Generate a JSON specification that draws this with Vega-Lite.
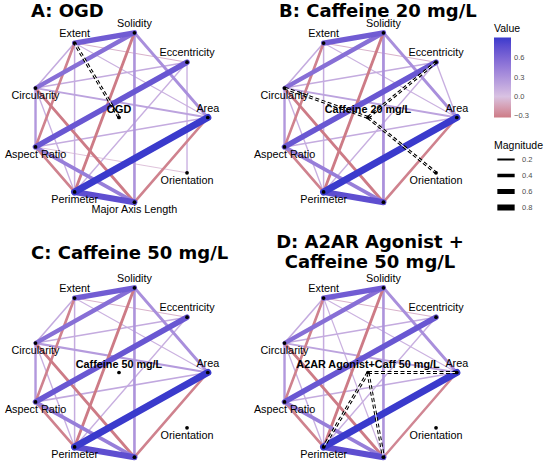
{
  "$schema": "https://vega.github.io/schema/vega-lite/v6.json",
  "background": "white",
  "padding": {"left": 4, "top": 2, "right": 0, "bottom": 0},
  "columns": 2,
  "spacing": {"row": 40, "column": 27},
  "bounds": "flush",
  "resolve": {"scale": {"color": "shared", "strokeWidth": "shared"}},
  "datasets": {
    "layout": [
      {"node": "Solidity", "x": 0.174, "y": 0.985, "side": "above"},
      {"node": "Extent", "x": -0.5, "y": 0.866, "side": "above"},
      {"node": "Eccentricity", "x": 0.766, "y": 0.643, "side": "above"},
      {"node": "Area", "x": 1.0, "y": 0.0, "side": "above"},
      {"node": "Orientation", "x": 0.766, "y": -0.643, "side": "below"},
      {"node": "Major Axis Length", "x": 0.174, "y": -0.985, "side": "below"},
      {"node": "Perimeter", "x": -0.5, "y": -0.866, "side": "below"},
      {"node": "Aspect Ratio", "x": -0.94, "y": -0.342, "side": "below"},
      {"node": "Circularity", "x": -0.94, "y": 0.342, "side": "below"},
      {"node": "Group", "x": 0.0, "y": 0.0, "side": "center"}
    ],
    "groups": [
      {"panel": "A", "node": "Group", "name": "OGD"},
      {"panel": "B", "node": "Group", "name": "Caffeine 20 mg/L"},
      {"panel": "C", "node": "Group", "name": "Caffeine 50 mg/L"},
      {"panel": "D", "node": "Group", "name": "A2AR Agonist+Caff 50 mg/L"}
    ],
    "gedges": [
      {"panel": "A", "from": "Group", "to": "Extent"},
      {"panel": "B", "from": "Group", "to": "Circularity"},
      {"panel": "B", "from": "Group", "to": "Eccentricity"},
      {"panel": "B", "from": "Group", "to": "Orientation"},
      {"panel": "D", "from": "Group", "to": "Area"},
      {"panel": "D", "from": "Group", "to": "Perimeter"},
      {"panel": "D", "from": "Group", "to": "Major Axis Length"}
    ],
    "edges": [
      {"panel": "A", "from": "Aspect Ratio", "to": "Orientation", "value": -0.05, "magnitude": 0.05},
      {"panel": "A", "from": "Extent", "to": "Eccentricity", "value": -0.08, "magnitude": 0.08},
      {"panel": "A", "from": "Extent", "to": "Area", "value": 0.1, "magnitude": 0.1},
      {"panel": "A", "from": "Eccentricity", "to": "Orientation", "value": 0.12, "magnitude": 0.12},
      {"panel": "A", "from": "Circularity", "to": "Perimeter", "value": 0.12, "magnitude": 0.12},
      {"panel": "A", "from": "Eccentricity", "to": "Perimeter", "value": 0.12, "magnitude": 0.12},
      {"panel": "A", "from": "Extent", "to": "Perimeter", "value": 0.14, "magnitude": 0.14},
      {"panel": "A", "from": "Extent", "to": "Circularity", "value": 0.15, "magnitude": 0.15},
      {"panel": "A", "from": "Circularity", "to": "Eccentricity", "value": 0.15, "magnitude": 0.15},
      {"panel": "A", "from": "Area", "to": "Aspect Ratio", "value": 0.15, "magnitude": 0.15},
      {"panel": "A", "from": "Circularity", "to": "Area", "value": 0.2, "magnitude": 0.2},
      {"panel": "A", "from": "Circularity", "to": "Aspect Ratio", "value": 0.27, "magnitude": 0.27},
      {"panel": "A", "from": "Solidity", "to": "Major Axis Length", "value": 0.3, "magnitude": 0.3},
      {"panel": "A", "from": "Solidity", "to": "Area", "value": 0.33, "magnitude": 0.33},
      {"panel": "A", "from": "Extent", "to": "Aspect Ratio", "value": -0.3, "magnitude": 0.3},
      {"panel": "A", "from": "Area", "to": "Major Axis Length", "value": -0.3, "magnitude": 0.3},
      {"panel": "A", "from": "Aspect Ratio", "to": "Perimeter", "value": -0.3, "magnitude": 0.3},
      {"panel": "A", "from": "Solidity", "to": "Perimeter", "value": -0.33, "magnitude": 0.33},
      {"panel": "A", "from": "Circularity", "to": "Major Axis Length", "value": -0.33, "magnitude": 0.33},
      {"panel": "A", "from": "Aspect Ratio", "to": "Major Axis Length", "value": 0.45, "magnitude": 0.45},
      {"panel": "A", "from": "Solidity", "to": "Circularity", "value": 0.55, "magnitude": 0.55},
      {"panel": "A", "from": "Extent", "to": "Solidity", "value": 0.68, "magnitude": 0.68},
      {"panel": "A", "from": "Eccentricity", "to": "Aspect Ratio", "value": 0.72, "magnitude": 0.72},
      {"panel": "A", "from": "Perimeter", "to": "Major Axis Length", "value": 0.78, "magnitude": 0.78},
      {"panel": "A", "from": "Area", "to": "Perimeter", "value": 0.93, "magnitude": 0.93},

      {"panel": "B", "from": "Extent", "to": "Eccentricity", "value": -0.08, "magnitude": 0.08},
      {"panel": "B", "from": "Extent", "to": "Area", "value": 0.1, "magnitude": 0.1},
      {"panel": "B", "from": "Eccentricity", "to": "Area", "value": 0.12, "magnitude": 0.12},
      {"panel": "B", "from": "Circularity", "to": "Perimeter", "value": 0.12, "magnitude": 0.12},
      {"panel": "B", "from": "Eccentricity", "to": "Perimeter", "value": 0.12, "magnitude": 0.12},
      {"panel": "B", "from": "Extent", "to": "Perimeter", "value": 0.14, "magnitude": 0.14},
      {"panel": "B", "from": "Extent", "to": "Circularity", "value": 0.15, "magnitude": 0.15},
      {"panel": "B", "from": "Circularity", "to": "Eccentricity", "value": 0.15, "magnitude": 0.15},
      {"panel": "B", "from": "Area", "to": "Aspect Ratio", "value": 0.15, "magnitude": 0.15},
      {"panel": "B", "from": "Circularity", "to": "Area", "value": 0.2, "magnitude": 0.2},
      {"panel": "B", "from": "Circularity", "to": "Aspect Ratio", "value": 0.27, "magnitude": 0.27},
      {"panel": "B", "from": "Solidity", "to": "Major Axis Length", "value": 0.32, "magnitude": 0.32},
      {"panel": "B", "from": "Solidity", "to": "Area", "value": 0.33, "magnitude": 0.33},
      {"panel": "B", "from": "Extent", "to": "Aspect Ratio", "value": -0.3, "magnitude": 0.3},
      {"panel": "B", "from": "Area", "to": "Major Axis Length", "value": -0.3, "magnitude": 0.3},
      {"panel": "B", "from": "Aspect Ratio", "to": "Perimeter", "value": -0.3, "magnitude": 0.3},
      {"panel": "B", "from": "Solidity", "to": "Perimeter", "value": -0.33, "magnitude": 0.33},
      {"panel": "B", "from": "Circularity", "to": "Major Axis Length", "value": -0.33, "magnitude": 0.33},
      {"panel": "B", "from": "Aspect Ratio", "to": "Major Axis Length", "value": 0.45, "magnitude": 0.45},
      {"panel": "B", "from": "Solidity", "to": "Circularity", "value": 0.55, "magnitude": 0.55},
      {"panel": "B", "from": "Extent", "to": "Solidity", "value": 0.68, "magnitude": 0.68},
      {"panel": "B", "from": "Eccentricity", "to": "Aspect Ratio", "value": 0.72, "magnitude": 0.72},
      {"panel": "B", "from": "Perimeter", "to": "Major Axis Length", "value": 0.78, "magnitude": 0.78},
      {"panel": "B", "from": "Area", "to": "Perimeter", "value": 0.93, "magnitude": 0.93},

      {"panel": "C", "from": "Extent", "to": "Eccentricity", "value": -0.08, "magnitude": 0.08},
      {"panel": "C", "from": "Extent", "to": "Area", "value": 0.1, "magnitude": 0.1},
      {"panel": "C", "from": "Circularity", "to": "Perimeter", "value": 0.12, "magnitude": 0.12},
      {"panel": "C", "from": "Eccentricity", "to": "Perimeter", "value": 0.12, "magnitude": 0.12},
      {"panel": "C", "from": "Extent", "to": "Perimeter", "value": 0.14, "magnitude": 0.14},
      {"panel": "C", "from": "Extent", "to": "Circularity", "value": 0.15, "magnitude": 0.15},
      {"panel": "C", "from": "Circularity", "to": "Eccentricity", "value": 0.15, "magnitude": 0.15},
      {"panel": "C", "from": "Area", "to": "Aspect Ratio", "value": 0.17, "magnitude": 0.17},
      {"panel": "C", "from": "Circularity", "to": "Area", "value": 0.25, "magnitude": 0.25},
      {"panel": "C", "from": "Circularity", "to": "Aspect Ratio", "value": 0.27, "magnitude": 0.27},
      {"panel": "C", "from": "Solidity", "to": "Major Axis Length", "value": 0.3, "magnitude": 0.3},
      {"panel": "C", "from": "Solidity", "to": "Area", "value": 0.33, "magnitude": 0.33},
      {"panel": "C", "from": "Extent", "to": "Aspect Ratio", "value": -0.3, "magnitude": 0.3},
      {"panel": "C", "from": "Area", "to": "Major Axis Length", "value": -0.3, "magnitude": 0.3},
      {"panel": "C", "from": "Aspect Ratio", "to": "Perimeter", "value": -0.3, "magnitude": 0.3},
      {"panel": "C", "from": "Solidity", "to": "Perimeter", "value": -0.33, "magnitude": 0.33},
      {"panel": "C", "from": "Circularity", "to": "Major Axis Length", "value": -0.33, "magnitude": 0.33},
      {"panel": "C", "from": "Aspect Ratio", "to": "Major Axis Length", "value": 0.45, "magnitude": 0.45},
      {"panel": "C", "from": "Solidity", "to": "Circularity", "value": 0.55, "magnitude": 0.55},
      {"panel": "C", "from": "Extent", "to": "Solidity", "value": 0.68, "magnitude": 0.68},
      {"panel": "C", "from": "Eccentricity", "to": "Aspect Ratio", "value": 0.72, "magnitude": 0.72},
      {"panel": "C", "from": "Perimeter", "to": "Major Axis Length", "value": 0.78, "magnitude": 0.78},
      {"panel": "C", "from": "Area", "to": "Perimeter", "value": 0.93, "magnitude": 0.93},

      {"panel": "D", "from": "Extent", "to": "Eccentricity", "value": -0.08, "magnitude": 0.08},
      {"panel": "D", "from": "Extent", "to": "Area", "value": 0.1, "magnitude": 0.1},
      {"panel": "D", "from": "Extent", "to": "Major Axis Length", "value": 0.1, "magnitude": 0.1},
      {"panel": "D", "from": "Circularity", "to": "Perimeter", "value": 0.12, "magnitude": 0.12},
      {"panel": "D", "from": "Eccentricity", "to": "Perimeter", "value": 0.12, "magnitude": 0.12},
      {"panel": "D", "from": "Extent", "to": "Perimeter", "value": 0.14, "magnitude": 0.14},
      {"panel": "D", "from": "Extent", "to": "Circularity", "value": 0.15, "magnitude": 0.15},
      {"panel": "D", "from": "Circularity", "to": "Eccentricity", "value": 0.15, "magnitude": 0.15},
      {"panel": "D", "from": "Area", "to": "Aspect Ratio", "value": 0.15, "magnitude": 0.15},
      {"panel": "D", "from": "Circularity", "to": "Area", "value": 0.2, "magnitude": 0.2},
      {"panel": "D", "from": "Circularity", "to": "Aspect Ratio", "value": 0.27, "magnitude": 0.27},
      {"panel": "D", "from": "Solidity", "to": "Major Axis Length", "value": 0.3, "magnitude": 0.3},
      {"panel": "D", "from": "Solidity", "to": "Area", "value": 0.33, "magnitude": 0.33},
      {"panel": "D", "from": "Extent", "to": "Aspect Ratio", "value": -0.3, "magnitude": 0.3},
      {"panel": "D", "from": "Area", "to": "Major Axis Length", "value": -0.28, "magnitude": 0.28},
      {"panel": "D", "from": "Aspect Ratio", "to": "Perimeter", "value": -0.3, "magnitude": 0.3},
      {"panel": "D", "from": "Solidity", "to": "Perimeter", "value": -0.33, "magnitude": 0.33},
      {"panel": "D", "from": "Circularity", "to": "Major Axis Length", "value": -0.33, "magnitude": 0.33},
      {"panel": "D", "from": "Aspect Ratio", "to": "Major Axis Length", "value": 0.45, "magnitude": 0.45},
      {"panel": "D", "from": "Solidity", "to": "Circularity", "value": 0.55, "magnitude": 0.55},
      {"panel": "D", "from": "Extent", "to": "Solidity", "value": 0.68, "magnitude": 0.68},
      {"panel": "D", "from": "Eccentricity", "to": "Aspect Ratio", "value": 0.72, "magnitude": 0.72},
      {"panel": "D", "from": "Perimeter", "to": "Major Axis Length", "value": 0.78, "magnitude": 0.78},
      {"panel": "D", "from": "Area", "to": "Perimeter", "value": 0.93, "magnitude": 0.93}
    ]
  },
  "concat": [
    {
      "width": 222, "height": 215,
      "title": {"text": "A: OGD", "offset": -10.5, "dx": 23},
      "layer": [
        {"data": {"name": "edges"},
         "transform": [{"filter": "datum.panel == 'A'"},
           {"lookup": "from", "from": {"data": {"name": "layout"}, "key": "node", "fields": ["x", "y"]}, "as": ["xa", "ya"]},
           {"lookup": "to", "from": {"data": {"name": "layout"}, "key": "node", "fields": ["x", "y"]}, "as": ["xb", "yb"]}],
         "mark": {"type": "rule", "strokeCap": "round"},
         "encoding": {
           "x": {"field": "xa", "type": "quantitative", "scale": {"domain": [-1.25, 1.25], "nice": false, "zero": false}, "axis": null},
           "y": {"field": "ya", "type": "quantitative", "scale": {"domain": [-1.25, 1.25], "nice": false, "zero": false}, "axis": null},
           "x2": {"field": "xb"}, "y2": {"field": "yb"},
           "color": {"field": "value", "type": "quantitative", "scale": {"domain": [-0.33, 0, 0.93], "range": ["#cd7b86", "#d9c2e2", "#3a3acc"], "interpolate": "lab"},
             "legend": {"title": "Value", "orient": "none", "legendX": 486, "legendY": 14, "direction": "vertical", "values": [-0.3, 0, 0.3, 0.6], "format": ".1f", "gradientLength": 80, "gradientThickness": 17, "titlePadding": 3, "labelOffset": 3}},
           "strokeWidth": {"field": "magnitude", "type": "quantitative", "scale": {"domain": [0, 1], "range": [0.5, 7.6]},
             "legend": {"title": "Magnitude", "orient": "none", "legendX": 486, "legendY": 131, "direction": "vertical", "values": [0.2, 0.4, 0.6, 0.8], "symbolType": "stroke", "symbolStrokeColor": "black", "symbolSize": 300, "labelOffset": 4, "rowPadding": 0, "clipHeight": 16, "titlePadding": 0}}
         }},
        {"data": {"name": "gedges"},
         "transform": [{"filter": "datum.panel == 'A'"},
           {"lookup": "from", "from": {"data": {"name": "layout"}, "key": "node", "fields": ["x", "y"]}, "as": ["xa", "ya"]},
           {"lookup": "to", "from": {"data": {"name": "layout"}, "key": "node", "fields": ["x", "y"]}, "as": ["xb", "yb"]}],
         "mark": {"type": "rule", "color": "black", "strokeWidth": 3, "strokeDash": [4, 2.5]},
         "encoding": {"x": {"field": "xa", "type": "quantitative"}, "y": {"field": "ya", "type": "quantitative"}, "x2": {"field": "xb"}, "y2": {"field": "yb"}}},
        {"data": {"name": "gedges"},
         "transform": [{"filter": "datum.panel == 'A'"},
           {"lookup": "from", "from": {"data": {"name": "layout"}, "key": "node", "fields": ["x", "y"]}, "as": ["xa", "ya"]},
           {"lookup": "to", "from": {"data": {"name": "layout"}, "key": "node", "fields": ["x", "y"]}, "as": ["xb", "yb"]}],
         "mark": {"type": "rule", "color": "white", "strokeWidth": 1},
         "encoding": {"x": {"field": "xa", "type": "quantitative"}, "y": {"field": "ya", "type": "quantitative"}, "x2": {"field": "xb"}, "y2": {"field": "yb"}}},
        {"data": {"name": "layout"},
         "mark": {"type": "circle", "size": 14, "color": "black", "opacity": 1},
         "encoding": {"x": {"field": "x", "type": "quantitative"}, "y": {"field": "y", "type": "quantitative"}}},
        {"data": {"name": "layout"},
         "transform": [{"filter": "datum.side == 'above'"}],
         "mark": {"type": "text", "dy": -9, "font": "Liberation Sans", "fontSize": 10.8, "color": "black"},
         "encoding": {"x": {"field": "x", "type": "quantitative"}, "y": {"field": "y", "type": "quantitative"}, "text": {"field": "node"}}},
        {"data": {"name": "layout"},
         "transform": [{"filter": "datum.side == 'below'"}],
         "mark": {"type": "text", "dy": 8, "font": "Liberation Sans", "fontSize": 10.8, "color": "black"},
         "encoding": {"x": {"field": "x", "type": "quantitative"}, "y": {"field": "y", "type": "quantitative"}, "text": {"field": "node"}}},
        {"data": {"name": "groups"},
         "transform": [{"filter": "datum.panel == 'A'"},
           {"lookup": "node", "from": {"data": {"name": "layout"}, "key": "node", "fields": ["x", "y"]}}],
         "mark": {"type": "text", "dy": -7.5, "font": "Liberation Sans", "fontSize": 10.8, "fontWeight": "bold", "color": "black"},
         "encoding": {"x": {"field": "x", "type": "quantitative"}, "y": {"field": "y", "type": "quantitative"}, "text": {"field": "name"}}}
      ]
    },
    {
      "width": 222, "height": 215,
      "title": {"text": "B: Caffeine 20 mg/L", "offset": -10.5, "dx": 22},
      "layer": [
        {"data": {"name": "edges"},
         "transform": [{"filter": "datum.panel == 'B'"},
           {"lookup": "from", "from": {"data": {"name": "layout"}, "key": "node", "fields": ["x", "y"]}, "as": ["xa", "ya"]},
           {"lookup": "to", "from": {"data": {"name": "layout"}, "key": "node", "fields": ["x", "y"]}, "as": ["xb", "yb"]}],
         "mark": {"type": "rule", "strokeCap": "round"},
         "encoding": {
           "x": {"field": "xa", "type": "quantitative", "scale": {"domain": [-1.25, 1.25], "nice": false, "zero": false}, "axis": null},
           "y": {"field": "ya", "type": "quantitative", "scale": {"domain": [-1.25, 1.25], "nice": false, "zero": false}, "axis": null},
           "x2": {"field": "xb"}, "y2": {"field": "yb"},
           "color": {"field": "value", "type": "quantitative", "scale": {"domain": [-0.33, 0, 0.93], "range": ["#cd7b86", "#d9c2e2", "#3a3acc"], "interpolate": "lab"},
             "legend": {"title": "Value", "orient": "none", "legendX": 486, "legendY": 14, "direction": "vertical", "values": [-0.3, 0, 0.3, 0.6], "format": ".1f", "gradientLength": 80, "gradientThickness": 17, "titlePadding": 3, "labelOffset": 3}},
           "strokeWidth": {"field": "magnitude", "type": "quantitative", "scale": {"domain": [0, 1], "range": [0.5, 7.6]},
             "legend": {"title": "Magnitude", "orient": "none", "legendX": 486, "legendY": 131, "direction": "vertical", "values": [0.2, 0.4, 0.6, 0.8], "symbolType": "stroke", "symbolStrokeColor": "black", "symbolSize": 300, "labelOffset": 4, "rowPadding": 0, "clipHeight": 16, "titlePadding": 0}}
         }},
        {"data": {"name": "gedges"},
         "transform": [{"filter": "datum.panel == 'B'"},
           {"lookup": "from", "from": {"data": {"name": "layout"}, "key": "node", "fields": ["x", "y"]}, "as": ["xa", "ya"]},
           {"lookup": "to", "from": {"data": {"name": "layout"}, "key": "node", "fields": ["x", "y"]}, "as": ["xb", "yb"]}],
         "mark": {"type": "rule", "color": "black", "strokeWidth": 3, "strokeDash": [4, 2.5]},
         "encoding": {"x": {"field": "xa", "type": "quantitative"}, "y": {"field": "ya", "type": "quantitative"}, "x2": {"field": "xb"}, "y2": {"field": "yb"}}},
        {"data": {"name": "gedges"},
         "transform": [{"filter": "datum.panel == 'B'"},
           {"lookup": "from", "from": {"data": {"name": "layout"}, "key": "node", "fields": ["x", "y"]}, "as": ["xa", "ya"]},
           {"lookup": "to", "from": {"data": {"name": "layout"}, "key": "node", "fields": ["x", "y"]}, "as": ["xb", "yb"]}],
         "mark": {"type": "rule", "color": "white", "strokeWidth": 1},
         "encoding": {"x": {"field": "xa", "type": "quantitative"}, "y": {"field": "ya", "type": "quantitative"}, "x2": {"field": "xb"}, "y2": {"field": "yb"}}},
        {"data": {"name": "layout"},
         "mark": {"type": "circle", "size": 14, "color": "black", "opacity": 1},
         "encoding": {"x": {"field": "x", "type": "quantitative"}, "y": {"field": "y", "type": "quantitative"}}},
        {"data": {"name": "layout"},
         "transform": [{"filter": "datum.side == 'above'"}],
         "mark": {"type": "text", "dy": -9, "font": "Liberation Sans", "fontSize": 10.8, "color": "black"},
         "encoding": {"x": {"field": "x", "type": "quantitative"}, "y": {"field": "y", "type": "quantitative"}, "text": {"field": "node"}}},
        {"data": {"name": "layout"},
         "transform": [{"filter": "datum.side == 'below' && datum.node != 'Major Axis Length'"}],
         "mark": {"type": "text", "dy": 8, "font": "Liberation Sans", "fontSize": 10.8, "color": "black"},
         "encoding": {"x": {"field": "x", "type": "quantitative"}, "y": {"field": "y", "type": "quantitative"}, "text": {"field": "node"}}},
        {"data": {"name": "groups"},
         "transform": [{"filter": "datum.panel == 'B'"},
           {"lookup": "node", "from": {"data": {"name": "layout"}, "key": "node", "fields": ["x", "y"]}}],
         "mark": {"type": "text", "dy": -7.5, "font": "Liberation Sans", "fontSize": 10.8, "fontWeight": "bold", "color": "black"},
         "encoding": {"x": {"field": "x", "type": "quantitative"}, "y": {"field": "y", "type": "quantitative"}, "text": {"field": "name"}}}
      ]
    },
    {
      "width": 222, "height": 215,
      "title": {"text": "C: Caffeine 50 mg/L", "offset": 2, "dx": 23},
      "layer": [
        {"data": {"name": "edges"},
         "transform": [{"filter": "datum.panel == 'C'"},
           {"lookup": "from", "from": {"data": {"name": "layout"}, "key": "node", "fields": ["x", "y"]}, "as": ["xa", "ya"]},
           {"lookup": "to", "from": {"data": {"name": "layout"}, "key": "node", "fields": ["x", "y"]}, "as": ["xb", "yb"]}],
         "mark": {"type": "rule", "strokeCap": "round"},
         "encoding": {
           "x": {"field": "xa", "type": "quantitative", "scale": {"domain": [-1.25, 1.25], "nice": false, "zero": false}, "axis": null},
           "y": {"field": "ya", "type": "quantitative", "scale": {"domain": [-1.25, 1.25], "nice": false, "zero": false}, "axis": null},
           "x2": {"field": "xb"}, "y2": {"field": "yb"},
           "color": {"field": "value", "type": "quantitative", "scale": {"domain": [-0.33, 0, 0.93], "range": ["#cd7b86", "#d9c2e2", "#3a3acc"], "interpolate": "lab"},
             "legend": {"title": "Value", "orient": "none", "legendX": 486, "legendY": 14, "direction": "vertical", "values": [-0.3, 0, 0.3, 0.6], "format": ".1f", "gradientLength": 80, "gradientThickness": 17, "titlePadding": 3, "labelOffset": 3}},
           "strokeWidth": {"field": "magnitude", "type": "quantitative", "scale": {"domain": [0, 1], "range": [0.5, 7.6]},
             "legend": {"title": "Magnitude", "orient": "none", "legendX": 486, "legendY": 131, "direction": "vertical", "values": [0.2, 0.4, 0.6, 0.8], "symbolType": "stroke", "symbolStrokeColor": "black", "symbolSize": 300, "labelOffset": 4, "rowPadding": 0, "clipHeight": 16, "titlePadding": 0}}
         }},
        {"data": {"name": "layout"},
         "mark": {"type": "circle", "size": 14, "color": "black", "opacity": 1},
         "encoding": {"x": {"field": "x", "type": "quantitative"}, "y": {"field": "y", "type": "quantitative"}}},
        {"data": {"name": "layout"},
         "transform": [{"filter": "datum.side == 'above'"}],
         "mark": {"type": "text", "dy": -9, "font": "Liberation Sans", "fontSize": 10.8, "color": "black"},
         "encoding": {"x": {"field": "x", "type": "quantitative"}, "y": {"field": "y", "type": "quantitative"}, "text": {"field": "node"}}},
        {"data": {"name": "layout"},
         "transform": [{"filter": "datum.side == 'below' && datum.node != 'Major Axis Length'"}],
         "mark": {"type": "text", "dy": 8, "font": "Liberation Sans", "fontSize": 10.8, "color": "black"},
         "encoding": {"x": {"field": "x", "type": "quantitative"}, "y": {"field": "y", "type": "quantitative"}, "text": {"field": "node"}}},
        {"data": {"name": "groups"},
         "transform": [{"filter": "datum.panel == 'C'"},
           {"lookup": "node", "from": {"data": {"name": "layout"}, "key": "node", "fields": ["x", "y"]}}],
         "mark": {"type": "text", "dy": -7.5, "font": "Liberation Sans", "fontSize": 10.8, "fontWeight": "bold", "color": "black"},
         "encoding": {"x": {"field": "x", "type": "quantitative"}, "y": {"field": "y", "type": "quantitative"}, "text": {"field": "name"}}}
      ]
    },
    {
      "width": 222, "height": 215,
      "title": {"text": ["D: A2AR Agonist +", "Caffeine 50 mg/L"], "offset": -7, "dx": 113, "align": "center", "lineHeight": 20},
      "layer": [
        {"data": {"name": "edges"},
         "transform": [{"filter": "datum.panel == 'D'"},
           {"lookup": "from", "from": {"data": {"name": "layout"}, "key": "node", "fields": ["x", "y"]}, "as": ["xa", "ya"]},
           {"lookup": "to", "from": {"data": {"name": "layout"}, "key": "node", "fields": ["x", "y"]}, "as": ["xb", "yb"]}],
         "mark": {"type": "rule", "strokeCap": "round"},
         "encoding": {
           "x": {"field": "xa", "type": "quantitative", "scale": {"domain": [-1.25, 1.25], "nice": false, "zero": false}, "axis": null},
           "y": {"field": "ya", "type": "quantitative", "scale": {"domain": [-1.25, 1.25], "nice": false, "zero": false}, "axis": null},
           "x2": {"field": "xb"}, "y2": {"field": "yb"},
           "color": {"field": "value", "type": "quantitative", "scale": {"domain": [-0.33, 0, 0.93], "range": ["#cd7b86", "#d9c2e2", "#3a3acc"], "interpolate": "lab"},
             "legend": {"title": "Value", "orient": "none", "legendX": 486, "legendY": 14, "direction": "vertical", "values": [-0.3, 0, 0.3, 0.6], "format": ".1f", "gradientLength": 80, "gradientThickness": 17, "titlePadding": 3, "labelOffset": 3}},
           "strokeWidth": {"field": "magnitude", "type": "quantitative", "scale": {"domain": [0, 1], "range": [0.5, 7.6]},
             "legend": {"title": "Magnitude", "orient": "none", "legendX": 486, "legendY": 131, "direction": "vertical", "values": [0.2, 0.4, 0.6, 0.8], "symbolType": "stroke", "symbolStrokeColor": "black", "symbolSize": 300, "labelOffset": 4, "rowPadding": 0, "clipHeight": 16, "titlePadding": 0}}
         }},
        {"data": {"name": "gedges"},
         "transform": [{"filter": "datum.panel == 'D'"},
           {"lookup": "from", "from": {"data": {"name": "layout"}, "key": "node", "fields": ["x", "y"]}, "as": ["xa", "ya"]},
           {"lookup": "to", "from": {"data": {"name": "layout"}, "key": "node", "fields": ["x", "y"]}, "as": ["xb", "yb"]}],
         "mark": {"type": "rule", "color": "black", "strokeWidth": 3, "strokeDash": [4, 2.5]},
         "encoding": {"x": {"field": "xa", "type": "quantitative"}, "y": {"field": "ya", "type": "quantitative"}, "x2": {"field": "xb"}, "y2": {"field": "yb"}}},
        {"data": {"name": "gedges"},
         "transform": [{"filter": "datum.panel == 'D'"},
           {"lookup": "from", "from": {"data": {"name": "layout"}, "key": "node", "fields": ["x", "y"]}, "as": ["xa", "ya"]},
           {"lookup": "to", "from": {"data": {"name": "layout"}, "key": "node", "fields": ["x", "y"]}, "as": ["xb", "yb"]}],
         "mark": {"type": "rule", "color": "white", "strokeWidth": 1},
         "encoding": {"x": {"field": "xa", "type": "quantitative"}, "y": {"field": "ya", "type": "quantitative"}, "x2": {"field": "xb"}, "y2": {"field": "yb"}}},
        {"data": {"name": "layout"},
         "mark": {"type": "circle", "size": 14, "color": "black", "opacity": 1},
         "encoding": {"x": {"field": "x", "type": "quantitative"}, "y": {"field": "y", "type": "quantitative"}}},
        {"data": {"name": "layout"},
         "transform": [{"filter": "datum.side == 'above'"}],
         "mark": {"type": "text", "dy": -9, "font": "Liberation Sans", "fontSize": 10.8, "color": "black"},
         "encoding": {"x": {"field": "x", "type": "quantitative"}, "y": {"field": "y", "type": "quantitative"}, "text": {"field": "node"}}},
        {"data": {"name": "layout"},
         "transform": [{"filter": "datum.side == 'below' && datum.node != 'Major Axis Length'"}],
         "mark": {"type": "text", "dy": 8, "font": "Liberation Sans", "fontSize": 10.8, "color": "black"},
         "encoding": {"x": {"field": "x", "type": "quantitative"}, "y": {"field": "y", "type": "quantitative"}, "text": {"field": "node"}}},
        {"data": {"name": "groups"},
         "transform": [{"filter": "datum.panel == 'D'"},
           {"lookup": "node", "from": {"data": {"name": "layout"}, "key": "node", "fields": ["x", "y"]}}],
         "mark": {"type": "text", "dy": -7.5, "font": "Liberation Sans", "fontSize": 10.8, "fontWeight": "bold", "color": "black"},
         "encoding": {"x": {"field": "x", "type": "quantitative"}, "y": {"field": "y", "type": "quantitative"}, "text": {"field": "name"}}}
      ]
    }
  ],
  "config": {
    "view": {"stroke": null},
    "title": {"font": "DejaVu Sans", "fontSize": 18, "fontWeight": "bold", "anchor": "start", "frame": "group", "color": "black"},
    "legend": {"titleFont": "Liberation Sans", "titleFontSize": 10.5, "titleFontWeight": "normal", "titleColor": "black", "labelFont": "Liberation Sans", "labelFontSize": 7.5, "labelColor": "#4d4d4d", "padding": 0, "gradientStrokeWidth": 0}
  }
}
